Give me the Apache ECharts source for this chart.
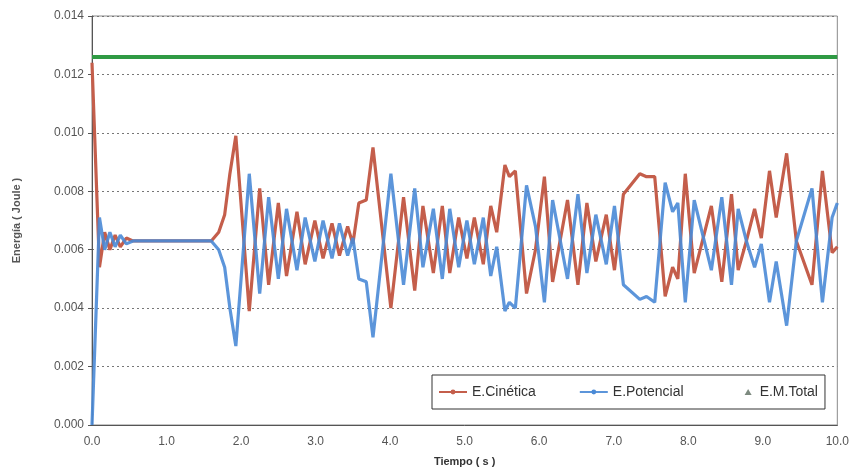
<!DOCTYPE html>
<html>
<head>
<meta charset="utf-8">
<script src="https://cdn.jsdelivr.net/npm/echarts@6/dist/echarts.min.js"></script>
<style>
html, body { margin: 0; padding: 0; background: #fff; }
#chart { width: 852px; height: 472px; }
</style>
</head>
<body>
<div id="chart"></div>
<script>
// tiempo (s) de cada extremo
var tiempo = [0.00, 0.10, 0.17, 0.24, 0.31, 0.38, 0.46, 0.55, 1.60, 1.70,
	1.78, 1.85, 1.93, 2.11, 2.25, 2.37, 2.50, 2.61, 2.75, 2.86,
	2.99, 3.10, 3.22, 3.32, 3.43, 3.50, 3.58, 3.68, 3.77, 4.01,
	4.18, 4.33, 4.44, 4.58, 4.70, 4.80, 4.92, 5.03, 5.13, 5.25,
	5.35, 5.43, 5.54, 5.60, 5.68, 5.83, 5.95, 6.07, 6.18, 6.38,
	6.52, 6.64, 6.76, 6.90, 7.01, 7.13, 7.35, 7.44, 7.55, 7.69,
	7.79, 7.86, 7.96, 8.08, 8.31, 8.45, 8.58, 8.67, 8.78, 8.89,
	8.98, 9.09, 9.18, 9.32, 9.45, 9.66, 9.80, 9.93, 10.00];

// energia cinetica (J)
var cinetica = [0.0124, 0.0054, 0.0066, 0.0060, 0.0065, 0.0061, 0.0064, 0.0063, 0.0063, 0.0066,
	0.0072, 0.0086, 0.0099, 0.0039, 0.0081, 0.0048, 0.0076, 0.0051, 0.0073, 0.0055,
	0.0070, 0.0057, 0.0069, 0.0058, 0.0068, 0.0062, 0.0076, 0.0077, 0.0095, 0.0040,
	0.0078, 0.0046, 0.0075, 0.0052, 0.0075, 0.0052, 0.0071, 0.0057, 0.0071, 0.0055,
	0.0075, 0.0066, 0.0089, 0.0085, 0.0087, 0.0045, 0.0060, 0.0085, 0.0049, 0.0077,
	0.0048, 0.0076, 0.0056, 0.0072, 0.0053, 0.0079, 0.0086, 0.0085, 0.0085, 0.0044,
	0.0054, 0.0050, 0.0086, 0.0052, 0.0075, 0.0049, 0.0079, 0.0053, 0.0063, 0.0074,
	0.0064, 0.0087, 0.0071, 0.0093, 0.0063, 0.0048, 0.0087, 0.0059, 0.0061];

// energia potencial (J)
var potencial = [0.0000, 0.0071, 0.0060, 0.0066, 0.0061, 0.0065, 0.0062, 0.0063, 0.0063, 0.0060,
	0.0054, 0.0040, 0.0027, 0.0086, 0.0045, 0.0078, 0.0050, 0.0074, 0.0053, 0.0071,
	0.0056, 0.0070, 0.0057, 0.0069, 0.0058, 0.0064, 0.0050, 0.0049, 0.0030, 0.0086,
	0.0048, 0.0081, 0.0054, 0.0074, 0.0050, 0.0074, 0.0054, 0.0070, 0.0055, 0.0071,
	0.0051, 0.0061, 0.0039, 0.0042, 0.0040, 0.0082, 0.0068, 0.0042, 0.0077, 0.0050,
	0.0079, 0.0052, 0.0072, 0.0055, 0.0075, 0.0048, 0.0043, 0.0044, 0.0042, 0.0083,
	0.0073, 0.0076, 0.0042, 0.0077, 0.0053, 0.0078, 0.0048, 0.0074, 0.0063, 0.0054,
	0.0062, 0.0042, 0.0056, 0.0034, 0.0063, 0.0081, 0.0042, 0.0071, 0.0076];

// energia mecanica total (J)
var tiempoTotal = [0.0, 10.0];
var total = [0.0126, 0.0126];

function pares(xs, ys) {
	var out = [];
	for (var i = 0; i < xs.length; i++) {
		out.push([xs[i], ys[i]]);
	}
	return out;
}

var fuente = 'Liberation Sans, Arial, sans-serif';

var option = {
	backgroundColor: '#ffffff',
	animation: false,
	textStyle: { fontFamily: fuente },
	grid: {
		left: 92,
		right: 11,
		top: 16,
		bottom: 46,
		show: true,
		borderColor: '#8a8a8a',
		borderWidth: 1
	},
	legend: {
		left: 432,
		top: 375,
		orient: 'horizontal',
		backgroundColor: '#ffffff',
		borderColor: '#333333',
		borderWidth: 1,
		borderRadius: 0,
		padding: [10, 7, 10, 6],
		itemGap: 43,
		itemWidth: 28,
		itemHeight: 6,
		textStyle: { fontFamily: fuente, fontSize: 14, color: '#333333' },
		data: [
			{ name: 'E.Cinética' },
			{ name: 'E.Potencial' },
			{
				name: 'E.M.Total',
				icon: 'path://M0,6M28,6M18,6L21.5,0L25,6Z',
				itemStyle: { color: '#7d8a7f' }
			}
		]
	},
	xAxis: {
		type: 'value',
		min: 0,
		max: 10,
		interval: 1,
		name: 'Tiempo ( s )',
		nameLocation: 'middle',
		nameGap: 31,
		nameTextStyle: { fontFamily: fuente, fontSize: 11, fontWeight: 'bold', color: '#333333' },
		axisLine: { onZero: false, lineStyle: { color: '#555555', width: 1 } },
		axisTick: { show: false },
		axisLabel: {
			color: '#555555',
			fontSize: 12,
			margin: 11,
			formatter: function (v) { return v.toFixed(1); }
		},
		splitLine: { show: false }
	},
	yAxis: {
		type: 'value',
		min: 0,
		max: 0.014,
		interval: 0.002,
		name: 'Energía ( Joule )',
		nameLocation: 'middle',
		nameGap: 70,
		nameTextStyle: { fontFamily: fuente, fontSize: 11, fontWeight: 'bold', color: '#555555' },
		axisLine: { show: true, lineStyle: { color: '#555555', width: 1 } },
		axisTick: { show: true, inside: false, length: 4, lineStyle: { color: '#555555' } },
		axisLabel: {
			color: '#555555',
			fontSize: 12,
			margin: 8,
			formatter: function (v) { return v.toFixed(3); }
		},
		splitLine: { show: true, lineStyle: { color: '#777777', type: [2, 3], width: 1 } }
	},
	series: [
		{
			name: 'E.Cinética',
			type: 'line',
			data: pares(tiempo, cinetica),
			symbol: 'circle',
			symbolSize: 4,
			showSymbol: false,
			color: '#c45e4b',
			lineStyle: { color: '#c45e4b', width: 3.2 },
			z: 2
		},
		{
			name: 'E.Potencial',
			type: 'line',
			data: pares(tiempo, potencial),
			symbol: 'circle',
			symbolSize: 4,
			showSymbol: false,
			color: '#4a8ad6',
			lineStyle: { color: '#4a8ad6', width: 3.2, opacity: 0.9 },
			z: 3
		},
		{
			name: 'E.M.Total',
			type: 'line',
			data: pares(tiempoTotal, total),
			symbol: 'triangle',
			showSymbol: false,
			color: '#2f9a44',
			lineStyle: { color: '#2f9a44', width: 4 },
			z: 4
		}
	]
};

var myChart = echarts.init(document.getElementById('chart'));
myChart.setOption(option);
</script>
</body>
</html>
